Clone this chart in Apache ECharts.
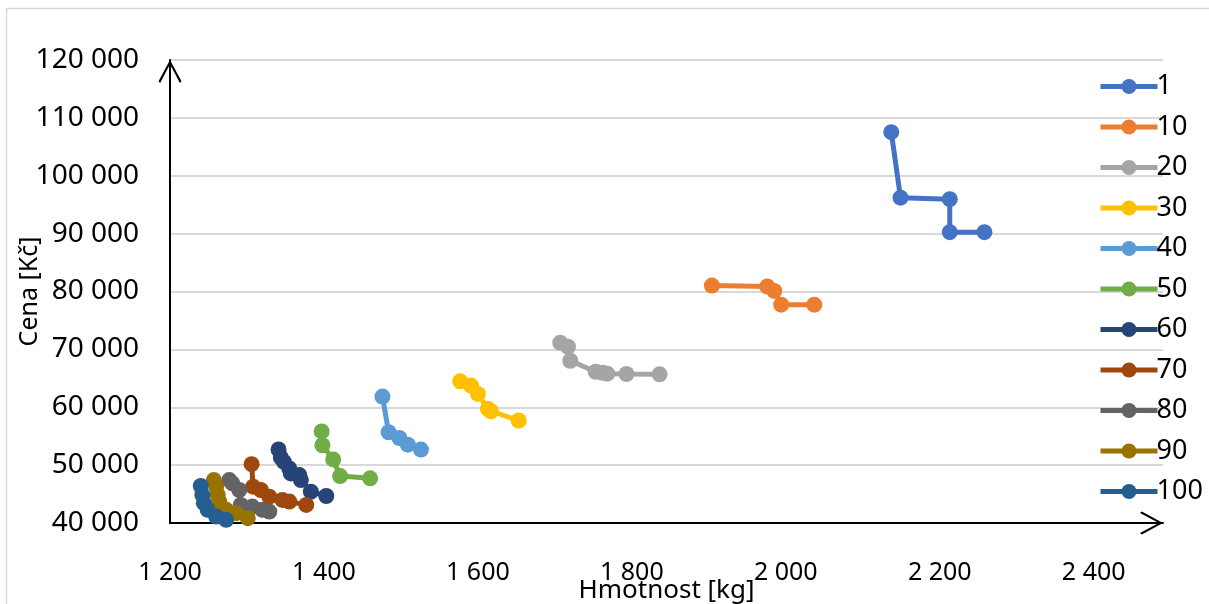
<!DOCTYPE html>
<html>
<head>
<meta charset="utf-8">
<script src="https://cdn.jsdelivr.net/npm/echarts@6/dist/echarts.min.js"></script>
<style>html,body{margin:0;padding:0;background:#fff;}#c{width:1209px;height:604px;}</style>
</head>
<body>
<div id="c"></div>
<script>
// Series names
const seriesNames = ['1','10','20','30','40','50','60','70','80','90','100'];
const colors = ['#4472C4','#ED7D31','#A5A5A5','#FFC000','#5B9BD5','#70AD47','#264478','#9E480E','#636363','#997300','#255E91'];

// Hmotnost [kg] (x) and Cena [Kč] (y) per series
const s1x = [2137, 2149, 2213, 2213, 2258];
const s1y = [107530, 96220, 95950, 90250, 90250];
const s10x = [1904, 1976, 1985, 1994, 2037];
const s10y = [81030, 80860, 80100, 77720, 77720];
const s20x = [1707, 1717, 1720, 1753, 1762, 1768, 1793, 1836];
const s20y = [71140, 70450, 68030, 66130, 65950, 65800, 65740, 65690];
const s30x = [1577, 1591, 1600, 1613, 1617, 1653];
const s30y = [64480, 63740, 62310, 59720, 59310, 57710];
const s40x = [1476, 1484, 1498, 1509, 1526];
const s40y = [61850, 55680, 54690, 53540, 52680];
const s50x = [1397, 1398, 1412, 1421, 1460];
const s50y = [55830, 53430, 50980, 48110, 47720];
const s60x = [1341, 1344, 1348, 1355, 1357, 1368, 1370, 1383, 1403];
const s60y = [52700, 51320, 50570, 49430, 48570, 48280, 47420, 45410, 44670];
const s70x = [1306, 1308, 1318, 1329, 1346, 1355, 1377];
const s70y = [50170, 46270, 45700, 44550, 43990, 43700, 43130];
const s80x = [1277, 1281, 1290, 1292, 1307, 1320, 1329];
const s80y = [47420, 46850, 45700, 43130, 42840, 42270, 41980];
const s90x = [1257, 1260, 1262, 1264, 1273, 1286, 1301];
const s90y = [47420, 46270, 44850, 43700, 42270, 41700, 40840];
const s100x = [1240, 1242, 1244, 1249, 1260, 1273];
const s100y = [46390, 44850, 43420, 42270, 41120, 40550];

const xs = [s1x, s10x, s20x, s30x, s40x, s50x, s60x, s70x, s80x, s90x, s100x];
const ys = [s1y, s10y, s20y, s30y, s40y, s50y, s60y, s70y, s80y, s90y, s100y];

// Axis ticks
const xMin = 1200, xMax = 2490, xStep = 200;
const yMin = 40000, yMax = 120000, yStep = 10000;

function fmt(v) {
  return String(Math.round(v)).replace(/\B(?=(\d{3})+(?!\d))/g, ' ');
}

const chevron = 'path://M0,92 L50,0 L100,92 L93,100 L50,18 L7,100 Z';
const FONT = 'Noto Sans';

const series = seriesNames.map((name, i) => ({
  name: name,
  type: 'line',
  data: xs[i].map((x, j) => [x, ys[i][j]]),
  symbol: 'circle',
  symbolSize: 16,
  showAllSymbol: true,
  lineStyle: { width: 5, color: colors[i] },
  itemStyle: { color: colors[i], borderWidth: 0 },
  emphasis: { disabled: true },
  z: 2 + i
}));

const chart = echarts.init(document.getElementById('c'), null, { renderer: 'canvas' });
chart.setOption({
  animation: false,
  backgroundColor: '#fff',
  textStyle: { fontFamily: FONT },
  graphic: [{
    type: 'rect',
    shape: { x: 6.5, y: 8.5, width: 1220, height: 620 },
    style: { fill: 'none', stroke: '#D9D9D9', lineWidth: 1.5 },
    silent: true, z: -10
  }],
  grid: {
    left: 170, right: 1209 - 1163, top: 60, bottom: 604 - 523,
    containLabel: false, outerBoundsMode: 'none'
  },
  legend: {
    orient: 'vertical',
    left: 1093,
    top: 68,
    itemWidth: 57,
    itemHeight: 19,
    itemGap: 13.5,
    data: seriesNames,
    lineStyle: { width: 5 },
    textStyle: { fontFamily: FONT, fontSize: 27, lineHeight: 27, color: '#000', padding: [0, 0, 0, -6] },
  },
  xAxis: {
    type: 'value',
    min: xMin, max: xMax, interval: xStep,
    name: 'Hmotnost [kg]',
    nameLocation: 'middle',
    nameGap: 55,
    nameMoveOverlap: false,
    nameTextStyle: { fontFamily: FONT, fontSize: 26, color: '#000' },
    axisLine: {
      show: true, onZero: false,
      lineStyle: { color: '#000', width: 2 },
      symbol: ['none', chevron],
      symbolSize: [27, 23],
      symbolOffset: [0, -11.5]
    },
    axisTick: { show: false },
    splitLine: { show: false },
    axisLabel: {
      fontFamily: FONT, fontSize: 25, color: '#000', margin: 37,
      formatter: v => (Math.round(v - xMin) % xStep === 0 ? fmt(v) : '')
    }
  },
  yAxis: {
    type: 'value',
    min: yMin, max: yMax, interval: yStep,
    name: 'Cena [Kč]',
    nameLocation: 'middle',
    nameGap: 128,
    nameMoveOverlap: false,
    nameRotate: 90,
    nameTextStyle: { fontFamily: FONT, fontSize: 25, color: '#000' },
    axisLine: {
      show: true, onZero: false,
      lineStyle: { color: '#000', width: 2 },
      symbol: ['none', chevron],
      symbolSize: [27, 23],
      symbolOffset: [0, -11.5]
    },
    axisTick: { show: false },
    splitLine: { show: true, lineStyle: { color: '#D9D9D9', width: 2 } },
    axisLabel: {
      fontFamily: FONT, fontSize: 28, color: '#000', margin: 31,
      formatter: v => fmt(v)
    }
  },
  series: series
});
</script>
</body>
</html>
